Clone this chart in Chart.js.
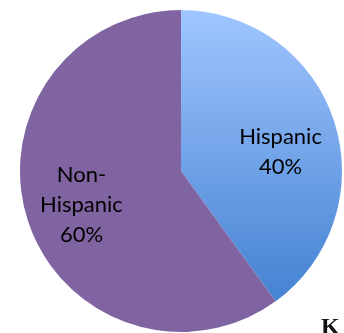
<!DOCTYPE html>
<html lang="en">
<head>
    <meta charset="UTF-8" />
    <title>Hispanic vs Non-Hispanic</title>
    <script src="https://cdn.jsdelivr.net/npm/chart.js"></script>
    <style>
        html, body { margin: 0; padding: 0; background: #fff; overflow: hidden; }
        #wrap { position: relative; width: 344px; height: 333px; overflow: hidden; }
        #mark { position: absolute; left: 321px; top: 313px; font: bold 24px "Liberation Serif", serif; color: #111; }
    </style>
</head>
<body>
    <div id="wrap">
        <canvas id="pie" width="344" height="333"></canvas>
        <div id="mark">K</div>
    </div>

    <script>
        const categories = ['Hispanic', 'Non-Hispanic'];
        const shares = [40, 60];
        const labelLines = [['Hispanic', '40%'], ['Non-', 'Hispanic', '60%']];

        // blue slice uses a vertical gradient like the original, purple is flat
        function sliceFill(ctx) {
            if (ctx.dataIndex === 1) return '#8064a2';
            const area = ctx.chart.chartArea;
            if (!area) return '#7aa8ec';
            const g = ctx.chart.ctx.createLinearGradient(0, area.top, 0, area.bottom);
            g.addColorStop(0, '#a0c6ff');
            g.addColorStop(1, '#3b7bcd');
            return g;
        }

        const sliceLabels = {
            id: 'sliceLabels',
            afterDatasetsDraw(chart) {
                const ctx = chart.ctx;
                const meta = chart.getDatasetMeta(0);
                ctx.save();
                ctx.fillStyle = '#000';
                ctx.font = '22px Lato, sans-serif';
                ctx.textAlign = 'center';
                ctx.textBaseline = 'middle';
                meta.data.forEach((arc, i) => {
                    const p = arc.getProps(['x', 'y', 'startAngle', 'endAngle', 'outerRadius'], true);
                    const mid = (p.startAngle + p.endAngle) / 2;
                    const r = p.outerRadius * 0.65;
                    const cx = p.x + Math.cos(mid) * r;
                    const cy = p.y + Math.sin(mid) * r + (i === 0 ? 13 : 2);
                    const lines = labelLines[i];
                    const lh = 30;
                    lines.forEach((t, k) => {
                        ctx.fillText(t, cx, cy + (k - (lines.length - 1) / 2) * lh);
                    });
                });
                ctx.restore();
            }
        };

        new Chart(document.getElementById('pie'), {
            type: 'pie',
            data: {
                labels: categories,
                datasets: [{
                    data: shares,
                    backgroundColor: sliceFill,
                    borderWidth: 0
                }]
            },
            options: {
                responsive: false,
                animation: false,
                layout: { padding: { left: 20, right: 2, top: 10, bottom: 1 } },
                plugins: {
                    legend: { display: false },
                    tooltip: { enabled: false }
                }
            },
            plugins: [sliceLabels]
        });
    </script>
</body>
</html>
